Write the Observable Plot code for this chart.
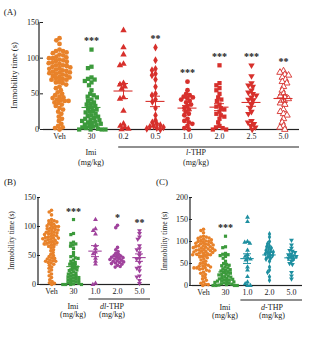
<!DOCTYPE html>
<html><head><meta charset="utf-8">
<script src="https://cdn.jsdelivr.net/npm/d3@7"></script>
<script src="https://cdn.jsdelivr.net/npm/@observablehq/plot@0.6"></script>
<style>
body{margin:0;background:#fff;}
#wrap{position:relative;width:324px;height:347px;overflow:hidden;}
.panel{position:absolute;}
</style></head><body><div id="wrap"></div>
<script>
// ---- data (immobility time, s) ----
const veh = [128,125,120,112,110,110,108,107,105,104,102,101,100,100,98,97,96,95,94,93,92,90,90,89,88,87,86,85,84,83,82,81,80,80,79,78,77,76,75,74,73,72,71,70,70,68,66,65,63,60,58,55,52,50,48,46,45,44,42,41,40,40,38,37,35,33,30,28,25,22,18,15,12,8,5,3,2,0];
const imi = [112,88,86,73,71,70,68,66,62,55,50,48,46,45,42,40,38,36,35,33,31,30,28,26,25,24,22,20,19,18,16,15,14,13,12,11,10,9,8,7,6,5,4,3,2,1,0,0,0,0];
const lTHP02 = [139,115,105,92,90,65,63,60,57,45,43,26,8,5,3,1,0];
const lTHP05 = [115,97,85,83,78,76,70,60,50,48,42,39,30,20,13,10,8,6,5,4,3,2,1,0];
const lTHP10 = [67,55,50,48,46,45,44,42,40,38,35,33,30,28,25,22,20,15,12,10,8,5,2,0];
const lTHP20 = [90,65,62,58,55,50,45,42,40,35,32,30,28,25,22,20,18,15,10,5,3,2,0,0];
const lTHP25 = [90,75,65,62,60,55,52,50,48,45,42,40,35,30,25,22,12,10,8,5,3,0];
const lTHP50 = [82,80,77,76,73,70,67,65,60,55,50,47,45,43,40,37,35,28,25,22,20,15,10,5,3,0];
const dlTHP10 = [112,96,93,87,67,62,56,53,45,40,35,2,0];
const dlTHP20 = [102,98,64,60,57,54,52,50,49,48,47,46,45,44,43,42,41,40,39,38,37,36,35,33,31,30];
const dlTHP50 = [93,88,82,78,67,62,60,55,50,45,44,38,30,28,24,15,13,7,2];
const dTHP10 = [155,145,100,98,96,80,70,66,63,60,58,42,35,20,8,4,0,0];
const dTHP20 = [117,110,100,95,90,88,85,83,80,78,76,75,72,70,68,65,62,60,55,42,35,30,20,12];
const dTHP50 = [103,92,85,80,78,75,72,70,68,66,64,62,60,55,50,48,30,22,15];

const catsA = ["Veh","30","0.2","0.5","1.0","2.0","2.5","5.0"];
const sigA = ["","***","","**","***","***","***","**"];
const catsB = ["Veh","30","1.0","2.0","5.0"];
const sigB = ["","***","","*","**"];
const catsC = ["Veh","30","1.0","2.0","5.0"];
const sigC = ["","***","","",""];
const yTicksAB = [0,50,100,150];
const yTicksC = [0,50,100,150,200];

const ORANGE="#e8822a", GREEN="#3c9a3c", RED="#d7302c", PURPLE="#a0429c", TEAL="#1e8fa0";
const triangleDown = {draw(ctx, size){const y=-Math.sqrt(size/(Math.sqrt(3)*3)); ctx.moveTo(0,-y*2); ctx.lineTo(-Math.sqrt(3)*y,y); ctx.lineTo(Math.sqrt(3)*y,y); ctx.closePath();}};
const FONT = "Liberation Serif, Times New Roman, serif";

function makePanel(cfg){
  const {groups} = cfg;
  const summary = groups.map(g => {
    const m = d3.mean(g.values), se = d3.deviation(g.values)/Math.sqrt(g.values.length);
    return {group:g.key, mean:m, lo:m-se, hi:m+se, max:d3.max(g.values), sig:g.sig, color:g.color};
  });
  const marks = [Plot.ruleY([0], {stroke:"#222", strokeWidth:1.2})];
  groups.forEach(g => {
    marks.push(Plot.dot(g.values.map(v => ({group:g.key, value:v})),
      Plot.dodgeX({anchor:"middle", padding:cfg.pad, fx:"group", y:"value", r:cfg.r, symbol:g.symbol,
        fill: g.open ? "white" : g.color, stroke: g.open ? g.color : "none", strokeWidth: g.open ? 0.9 : 0})));
  });
  marks.push(
    Plot.tickY(summary, {fx:"group", y:"mean", stroke:"color", strokeWidth:1.1, insetLeft:cfg.meanInset, insetRight:cfg.meanInset}),
    Plot.tickY(summary, {fx:"group", y:"lo", stroke:"color", strokeWidth:1, insetLeft:cfg.semInset, insetRight:cfg.semInset}),
    Plot.tickY(summary, {fx:"group", y:"hi", stroke:"color", strokeWidth:1, insetLeft:cfg.semInset, insetRight:cfg.semInset}),
    Plot.ruleX(summary, {fx:"group", x:null, y1:"lo", y2:"hi", stroke:"color", strokeWidth:1}),
    Plot.text(summary.filter(d => d.sig), {fx:"group", y:"max", text:"sig", dy:-cfg.sigDy, fontSize:10, fontWeight:"bold", fill:"#222"})
  );
  const plot = Plot.plot({
    width:cfg.width, height:cfg.height,
    marginLeft:cfg.ml, marginRight:cfg.mr, marginTop:cfg.mt, marginBottom:cfg.mb,
    style:{fontFamily:FONT, fontSize:"8px", color:"#222", background:"transparent", overflow:"visible"},
    fx:{domain:groups.map(g=>g.key), padding:0, axis:"bottom", tickSize:0, tickPadding:4, label:null},
    y:{domain:cfg.yDomain, ticks:cfg.yTicks, tickSize:3, tickPadding:1.5, label:null},
    color:{type:"identity"},
    marks
  });
  const svg = d3.select(plot);
  const ys = plot.scale("y"), fxs = plot.scale("fx");
  const bw = fxs.bandwidth;
  const y0 = ys.apply(0), yTop = ys.apply(cfg.yDomain[1]);
  svg.append("line").attr("x1",cfg.ml).attr("x2",cfg.ml).attr("y1",y0).attr("y2",yTop).attr("stroke","#222").attr("stroke-width",1.2);
  svg.append("text").attr("transform",`translate(${cfg.ml-cfg.yLabelOffset},${(y0+yTop)/2}) rotate(-90)`)
    .attr("text-anchor","middle").attr("dominant-baseline","middle").attr("font-size",cfg.yLabelSize).attr("fill","#222")
    .text("Immobility time (s)");
  svg.append("text").attr("x",cfg.letterX).attr("y",cfg.letterY).attr("font-size",9).attr("fill","#222").attr("dominant-baseline","middle").text(cfg.letter);
  const imiX = fxs.apply(groups[1].key)+bw/2;
  svg.append("text").attr("x",imiX).attr("y",y0+cfg.lab1).attr("text-anchor","middle").attr("dominant-baseline","middle").attr("font-size",8).attr("fill","#222").text("Imi");
  svg.append("text").attr("x",imiX).attr("y",y0+cfg.lab2).attr("text-anchor","middle").attr("dominant-baseline","middle").attr("font-size",8).attr("fill","#222").text("(mg/kg)");
  const x1 = fxs.apply(groups[2].key)+cfg.lineStart*bw, x2 = fxs.apply(groups[groups.length-1].key)+bw;
  svg.append("line").attr("x1",x1).attr("x2",x2).attr("y1",y0+cfg.lineY).attr("y2",y0+cfg.lineY).attr("stroke","#222").attr("stroke-width",1.2);
  const cx = (fxs.apply(groups[2].key)+x2)/2 + cfg.labShift;
  const t = svg.append("text").attr("x",cx).attr("y",y0+cfg.lab1).attr("text-anchor","middle").attr("dominant-baseline","middle").attr("font-size",8).attr("fill","#222");
  t.append("tspan").attr("font-style","italic").text(cfg.prefix);
  t.append("tspan").text("-THP");
  svg.append("text").attr("x",cx).attr("y",y0+cfg.lab2).attr("text-anchor","middle").attr("dominant-baseline","middle").attr("font-size",8).attr("fill","#222").text("(mg/kg)");
  const div = document.createElement("div");
  div.className = "panel"; div.style.left = cfg.left+"px"; div.style.top = cfg.top+"px";
  div.appendChild(plot);
  document.getElementById("wrap").appendChild(div);
}

function grp(keys, sigs, vals, colors, symbols, opens){
  return keys.map((k,i)=>({key:k, sig:sigs[i], values:vals[i], color:colors[i], symbol:symbols[i], open:opens[i]}));
}

makePanel({
  groups: grp(catsA, sigA, [veh,imi,lTHP02,lTHP05,lTHP10,lTHP20,lTHP25,lTHP50],
    [ORANGE,GREEN,RED,RED,RED,RED,RED,RED],
    ["circle","square","triangle","diamond","circle","square",triangleDown,"triangle"],
    [false,false,false,false,false,false,false,true]),
  left:0, top:0, width:324, height:170, ml:39, mr:22, mt:22, mb:41,
  yDomain:[0,150], yTicks:yTicksAB, r:2.4, pad:-1.0, meanInset:6.5, semInset:11, sigDy:9,
  yLabelOffset:24, yLabelSize:8.5, letter:"(A)", letterX:10, letterY:13,
  lab1:24, lab2:34, lineY:18, lineStart:0.35, labShift:-7, prefix:"l"
});
makePanel({
  groups: grp(catsB, sigB, [veh,imi,dlTHP10,dlTHP20,dlTHP50],
    [ORANGE,GREEN,PURPLE,PURPLE,PURPLE],
    ["circle","square","triangle","circle",triangleDown],
    [false,false,false,false,false]),
  left:0, top:170, width:162, height:177, ml:38, mr:10, mt:27, mb:63,
  yDomain:[0,150], yTicks:yTicksAB, r:1.8, pad:-0.7, meanInset:4.3, semInset:7, sigDy:8,
  yLabelOffset:26, yLabelSize:7.5, letter:"(B)", letterX:10, letterY:13,
  lab1:23, lab2:31, lineY:15, lineStart:0.2, labShift:-5, prefix:"dl"
});
makePanel({
  groups: grp(catsC, sigC, [veh,imi,dTHP10,dTHP20,dTHP50],
    [ORANGE,GREEN,TEAL,TEAL,TEAL],
    ["circle","square","triangle","diamond",triangleDown],
    [false,false,false,false,false]),
  left:160, top:170, width:164, height:177, ml:30, mr:21, mt:27, mb:62,
  yDomain:[0,200], yTicks:yTicksC, r:1.8, pad:-0.7, meanInset:4.3, semInset:7, sigDy:8,
  yLabelOffset:25, yLabelSize:7.5, letter:"(C)", letterX:2, letterY:13,
  lab1:23, lab2:31, lineY:15, lineStart:0.2, labShift:3, prefix:"d"
});
</script></body></html>
